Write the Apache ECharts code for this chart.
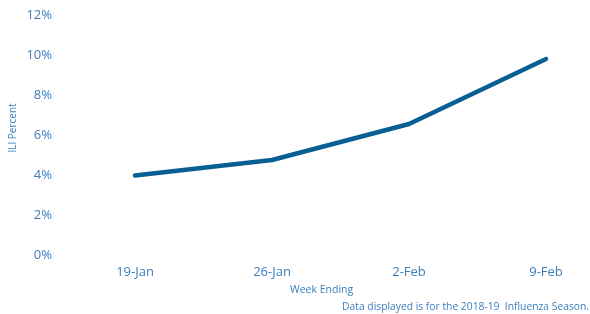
<!DOCTYPE html>
<html><head><meta charset="utf-8">
<script src="https://cdn.jsdelivr.net/npm/echarts@6/dist/echarts.min.js"></script>
<style>html,body{margin:0;padding:0;background:#fff}#c{width:590px;height:314px}</style>
</head><body><div id="c"></div>
<script>
const categories = ['19-Jan', '26-Jan', '2-Feb', '9-Feb'];
const iliValues = [3.97, 4.75, 6.55, 9.8];
const yTicks = { min: 0, max: 12, interval: 2 };
const labelColor = '#3a7ebd';
const lineColor = '#075f94';
const font = 'Open Sans';
const chart = echarts.init(document.getElementById('c'), null, { renderer: 'canvas' });
chart.setOption({
  animation: false,
  backgroundColor: '#fff',
  grid: { left: 135, right: 44, top: 15, bottom: 59 },
  title: [
    { text: 'Week Ending', left: 290, top: 285, padding: 0, textStyle: { fontFamily: font, fontSize: 10.5, fontWeight: 'normal', color: labelColor } },
    { text: 'Data displayed is for the 2018-19  Influenza Season.', right: 1, top: 302, padding: 0, textStyle: { fontFamily: font, fontSize: 10.3, fontWeight: 'normal', color: labelColor } }
  ],
  graphic: [{
    type: 'text', x: 8, y: 128, rotation: Math.PI / 2,
    style: { text: 'ILI Percent', fill: labelColor, font: '10px "Open Sans"', align: 'center', verticalAlign: 'top' }
  }],
  xAxis: {
    type: 'category', data: categories, boundaryGap: false,
    axisLine: { show: false }, axisTick: { show: false },
    axisLabel: { color: labelColor, fontFamily: font, fontSize: 13, margin: 11 }
  },
  yAxis: {
    type: 'value', min: yTicks.min, max: yTicks.max, interval: yTicks.interval,
    splitLine: { show: false }, axisLine: { show: false }, axisTick: { show: false },
    axisLabel: { formatter: '{value}%', color: labelColor, fontFamily: font, fontSize: 13, margin: 83 }
  },
  series: [{
    type: 'line', data: iliValues, symbol: 'none',
    lineStyle: { color: lineColor, width: 4.5, cap: 'round', join: 'round' }
  }]
});
</script></body></html>
